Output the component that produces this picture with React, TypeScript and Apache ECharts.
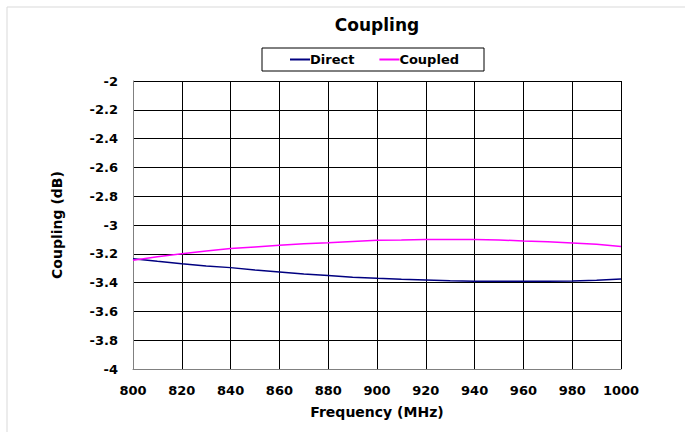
import React, { useEffect, useRef } from "react";
import * as echarts from "echarts";

const frequencies = [800, 810, 820, 830, 840, 850, 860, 870, 880, 890, 900, 910, 920, 930, 940, 950, 960, 970, 980, 990, 1000];
const direct = [-3.234, -3.252, -3.269, -3.284, -3.296, -3.312, -3.326, -3.34, -3.35, -3.362, -3.37, -3.377, -3.382, -3.387, -3.39, -3.39, -3.39, -3.39, -3.389, -3.384, -3.375];
const coupled = [-3.245, -3.221, -3.199, -3.18, -3.164, -3.152, -3.141, -3.13, -3.123, -3.114, -3.106, -3.104, -3.1, -3.101, -3.1, -3.104, -3.111, -3.117, -3.125, -3.134, -3.15];
const seriesNames = ["Direct", "Coupled"];

const FONT = "'DejaVu Sans', Arial, sans-serif";

export default function App() {
  const ref = useRef<HTMLDivElement>(null);
  useEffect(() => {
    if (!ref.current) return;
    const chart = echarts.init(ref.current, null, { renderer: "svg" });
    chart.setOption({
      animation: false,
      backgroundColor: "#fff",
      title: {
        text: "Coupling",
        left: 372,
        top: 11,
        textAlign: "center",
        textStyle: { fontFamily: FONT, fontSize: 17, fontWeight: "bold", color: "#000" },
      },
      legend: {
        data: seriesNames,
        left: 262,
        top: 48,
        padding: [5, 25, 5, 28],
        itemGap: 25,
        itemWidth: 20,
        itemHeight: 2,
        icon: "rect",
        borderColor: "#000",
        borderWidth: 1,
        textStyle: { fontFamily: FONT, fontSize: 13, fontWeight: "bold", color: "#000", padding: [0, 0, 0, -5] },
      },
      graphic: [
        {
          type: "rect",
          shape: { x: 7, y: 7, width: 700, height: 450 },
          style: { fill: "none", stroke: "#d9d9d9", lineWidth: 1 },
          silent: true,
          z: -1,
        },
      ],
      grid: { left: 133, top: 81, width: 488, height: 288 },
      xAxis: {
        type: "value",
        min: 800,
        max: 1000,
        interval: 20,
        name: "Frequency (MHz)",
        nameLocation: "middle",
        nameGap: 36,
        nameTextStyle: { fontFamily: FONT, fontSize: 14, fontWeight: "bold", color: "#000" },
        axisLine: { show: true, lineStyle: { color: "#808080", width: 1 } },
        axisTick: { show: false },
        axisLabel: { fontFamily: FONT, fontSize: 13, fontWeight: "bold", color: "#000", margin: 15, formatter: (v: number) => String(v) },
        splitLine: { show: true, lineStyle: { color: "#000", width: 1 } },
      },
      yAxis: {
        type: "value",
        min: -4,
        max: -2,
        interval: 0.2,
        name: "Coupling (dB)",
        nameLocation: "middle",
        nameGap: 69,
        nameTextStyle: { fontFamily: FONT, fontSize: 14, fontWeight: "bold", color: "#000" },
        axisLine: { show: true, lineStyle: { color: "#808080", width: 1 } },
        axisTick: { show: false },
        axisLabel: { fontFamily: FONT, fontSize: 13, fontWeight: "bold", color: "#000", margin: 15, padding: [3, 0, 0, 0] },
        splitLine: { show: true, lineStyle: { color: "#000", width: 1 } },
      },
      series: [
        {
          name: seriesNames[0],
          type: "line",
          data: frequencies.map((f, i) => [f, direct[i]]),
          showSymbol: false,
          lineStyle: { color: "#000080", width: 1.5 },
          itemStyle: { color: "#000080" },
        },
        {
          name: seriesNames[1],
          type: "line",
          data: frequencies.map((f, i) => [f, coupled[i]]),
          showSymbol: false,
          lineStyle: { color: "#FF00FF", width: 1.5 },
          itemStyle: { color: "#FF00FF" },
        },
      ],
    });
    return () => chart.dispose();
  }, []);
  return <div ref={ref} style={{ width: 685, height: 432, position: "absolute", left: 0, top: 0 }} />;
}
